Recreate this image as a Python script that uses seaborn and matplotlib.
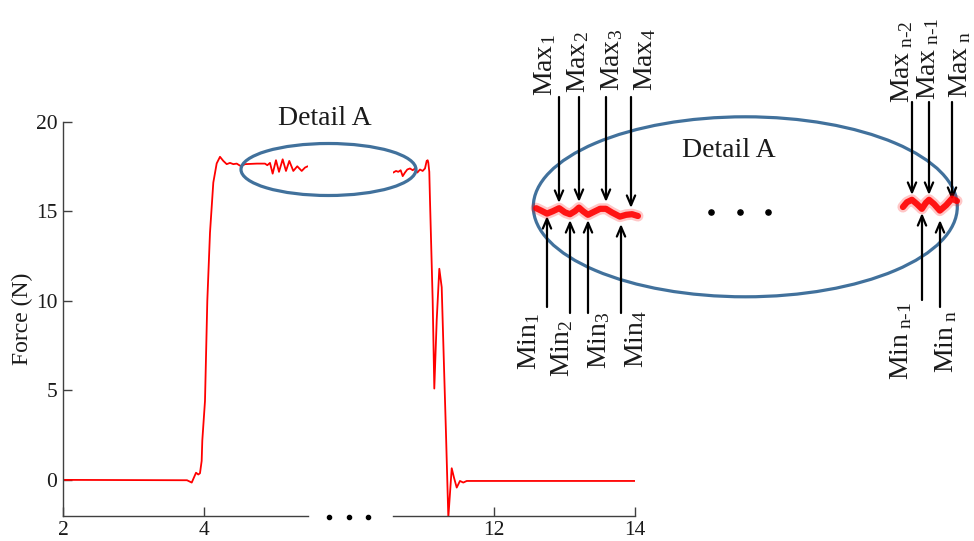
import numpy as np
import pandas as pd
import matplotlib
matplotlib.use("Agg")
import matplotlib.pyplot as plt
from matplotlib.patches import Ellipse
import seaborn as sns

# ---------------- data ----------------
time_left = [2.0, 3.759, 3.826, 3.887, 3.919, 3.943, 3.967, 3.976, 4.014, 4.047, 4.085,
             4.132, 4.180, 4.227, 4.274, 4.322, 4.369, 4.416, 4.464, 4.525, 4.582,
             4.75, 4.865, 4.898, 4.936, 4.974, 5.021, 5.064, 5.116, 5.163, 5.210,
             5.267, 5.323, 5.386, 5.433, 5.471]
force_left = [0.0, -0.02, -0.15, 0.40, 0.30, 0.37, 1.06, 2.2, 4.4, 10.0, 13.8,
              16.6, 17.67, 18.04, 17.81, 17.63, 17.70, 17.63, 17.66, 17.51, 17.63,
              17.66, 17.66, 17.57, 17.70, 17.10, 17.85, 17.20, 17.90, 17.25, 17.81,
              17.25, 17.51, 17.25, 17.44, 17.51]

time_right = [10.567, 10.606, 10.638, 10.672, 10.701, 10.733, 10.766, 10.804, 10.843,
              10.875, 10.908, 10.946, 10.984, 11.017, 11.041, 11.055, 11.064, 11.078,
              11.088, 11.126, 11.149, 11.183, 11.220, 11.254, 11.287, 11.315, 11.348,
              11.396, 11.428, 11.467, 11.513, 11.560, 11.609, 11.679, 14.0]
force_right = [17.16, 17.25, 17.20, 17.29, 16.96, 17.16, 17.33, 17.39, 17.29,
               17.39, 17.16, 17.33, 17.25, 17.39, 17.81, 17.85, 17.72, 17.20,
               15.6, 10.0, 5.1, 8.9, 11.79, 10.76, 6.28, 2.56, -2.1,
               0.65, 0.13, -0.43, -0.06, -0.15, -0.06, -0.06, -0.06]

# zoomed "Detail A" waves (detail position %, force N)
detail_pos_first = [3.6, 4.7, 6.0, 7.3, 8.7, 10.0, 11.1, 12.2, 13.1, 14.0, 15.1,
                    16.7, 17.8, 19.1, 20.4, 22.2, 23.6, 24.9, 26.2]
detail_force_first = [17.53, 17.49, 17.44, 17.48, 17.53, 17.46, 17.43, 17.48, 17.54,
                      17.48, 17.42, 17.48, 17.52, 17.52, 17.46, 17.39, 17.42, 17.43, 17.40]
detail_pos_last = [85.1, 86.0, 87.1, 88.2, 89.3, 90.2, 90.9, 92.0, 93.3, 94.7, 96.0, 97.1]
detail_force_last = [17.55, 17.63, 17.67, 17.60, 17.52, 17.62, 17.67, 17.60, 17.49,
                     17.58, 17.69, 17.65]

yticks = [0, 5, 10, 15, 20]
xticks_left = [2, 4]
xticks_right = [12, 14]

max_labels = [r"Max$_{1}$", r"Max$_{2}$", r"Max$_{3}$", r"Max$_{4}$",
              r"Max$_{\ \text{n-2}}$", r"Max$_{\ \text{n-1}}$", r"Max$_{\ \text{n}}$"]
min_labels = [r"Min$_{1}$", r"Min$_{2}$", r"Min$_{3}$", r"Min$_{4}$",
              r"Min$_{\ \text{n-1}}$", r"Min$_{\ \text{n}}$"]

# ---------------- style ----------------
sns.set_style("ticks")
plt.rcParams["font.family"] = ["Liberation Serif", "DejaVu Serif"]
plt.rcParams["mathtext.fontset"] = "custom"
plt.rcParams["mathtext.rm"] = "Liberation Serif"
plt.rcParams["mathtext.it"] = "Liberation Serif:italic"
plt.rcParams["mathtext.bf"] = "Liberation Serif:bold"

W, H = 974, 541
fig = plt.figure(figsize=(W / 100, H / 100), dpi=100)

def rect(x0, y0, x1, y1):
    return [x0 / W, (H - y1) / H, (x1 - x0) / W, (y1 - y0) / H]

spine_col = "#404040"
txt_col = "#1a1a1a"

ax1 = fig.add_axes(rect(63, 121.7, 307.7, 515.7))
ax2 = fig.add_axes(rect(392.7, 121.7, 635.3, 515.7))

df_l = pd.DataFrame({"t": time_left, "F": force_left})
df_r = pd.DataFrame({"t": time_right, "F": force_right})
sns.lineplot(data=df_l, x="t", y="F", ax=ax1, color="#ff0000", lw=1.3, estimator=None)
sns.lineplot(data=df_r, x="t", y="F", ax=ax2, color="#ff0000", lw=1.3, estimator=None)

for ax in (ax1, ax2):
    ax.set_ylim(-2, 20)
    ax.set_xlabel("")
    ax.set_ylabel("")
    ax.set_facecolor("none")
    for s in ("top", "right"):
        ax.spines[s].set_visible(False)
    ax.spines["bottom"].set_color(spine_col)
    ax.spines["left"].set_color(spine_col)
    ax.spines["bottom"].set_linewidth(1.0)
    ax.spines["left"].set_linewidth(1.0)
    ax.tick_params(direction="in", length=6.5, width=1.0, color=spine_col,
                   labelsize=15.5, labelcolor=txt_col, pad=4)
    ax.tick_params(axis="x", pad=3.5)

ax1.set_xlim(2, 5.471)
ax1.set_xticks(xticks_left)
ax1.set_yticks(yticks)
ax1.set_ylabel("Force (N)", fontsize=17, color=txt_col, labelpad=2)

ax2.set_xlim(10.559, 14.0)
ax2.set_xticks(xticks_right)
ax2.spines["left"].set_visible(False)
ax2.set_yticks([])

# detail wave axes
axd = fig.add_axes(rect(520, 180, 970, 240))
axd.set_xlim(0, 100)
axd.set_ylim(17.0, 18.0)
axd.axis("off")
axd.set_zorder(4)
for px, fy in ((detail_pos_first, detail_force_first), (detail_pos_last, detail_force_last)):
    dfd = pd.DataFrame({"p": px, "F": fy})
    sns.lineplot(data=dfd, x="p", y="F", ax=axd, color="#ff0000", lw=8, alpha=0.22,
                 estimator=None, solid_capstyle="round", solid_joinstyle="round")
    sns.lineplot(data=dfd, x="p", y="F", ax=axd, color="#ff0000", lw=4.5, alpha=0.9,
                 estimator=None, solid_capstyle="round", solid_joinstyle="round")

# overlay in pixel coordinates for annotations
ov = fig.add_axes([0, 0, 1, 1])
ov.set_xlim(0, W)
ov.set_ylim(H, 0)
ov.axis("off")
ov.set_zorder(3)
ov.patch.set_alpha(0)

ell_col = "#41719c"
ov.add_patch(Ellipse((328.5, 169.5), 175, 52, fill=False, ec=ell_col, lw=2.3))
ov.add_patch(Ellipse((745.3, 206.8), 424, 180, fill=False, ec=ell_col, lw=2.3))

ov.text(325, 125, "Detail A", fontsize=20, ha="center", va="baseline", color=txt_col)
ov.text(729, 157, "Detail A", fontsize=20, ha="center", va="baseline", color=txt_col)

# ellipsis dots
ov.scatter([329, 349, 368], [516.5, 516.5, 516.5], s=9, color="black", zorder=5)
ov.scatter([711, 740, 768], [212, 212, 212], s=14, color="black", zorder=5)

arrow_kw = dict(arrowstyle="->,head_length=0.7,head_width=0.3", color="black",
                lw=1.6, shrinkA=0, shrinkB=0, mutation_scale=10)

max_arrows = [(559, 97, 203), (579, 97, 202), (606, 97, 202), (631, 97, 208),
              (912, 102, 195), (929, 102, 195), (952, 102, 200)]
min_arrows = [(547, 307, 216), (570, 313, 220), (588, 313, 220), (621, 313, 224),
              (922, 300, 213), (940, 307, 220)]
for x, y0, y1 in max_arrows + min_arrows:
    ov.annotate("", xy=(x, y1), xytext=(x, y0), arrowprops=arrow_kw)

max_pos = [(545.5, 96), (578, 93), (612, 91), (645, 91), (902, 103), (928, 100), (960, 98)]
min_pos = [(529, 313), (562.5, 320), (599, 312), (636, 310), (901.5, 302), (946, 310)]
for lab, (x, y) in zip(max_labels, max_pos):
    ov.text(x, y, lab, rotation=90, fontsize=20, ha="center", va="bottom", color=txt_col)
for lab, (x, y) in zip(min_labels, min_pos):
    ov.text(x, y, lab, rotation=90, fontsize=20, ha="center", va="top", color=txt_col)

fig.savefig("out.png", dpi=100)
